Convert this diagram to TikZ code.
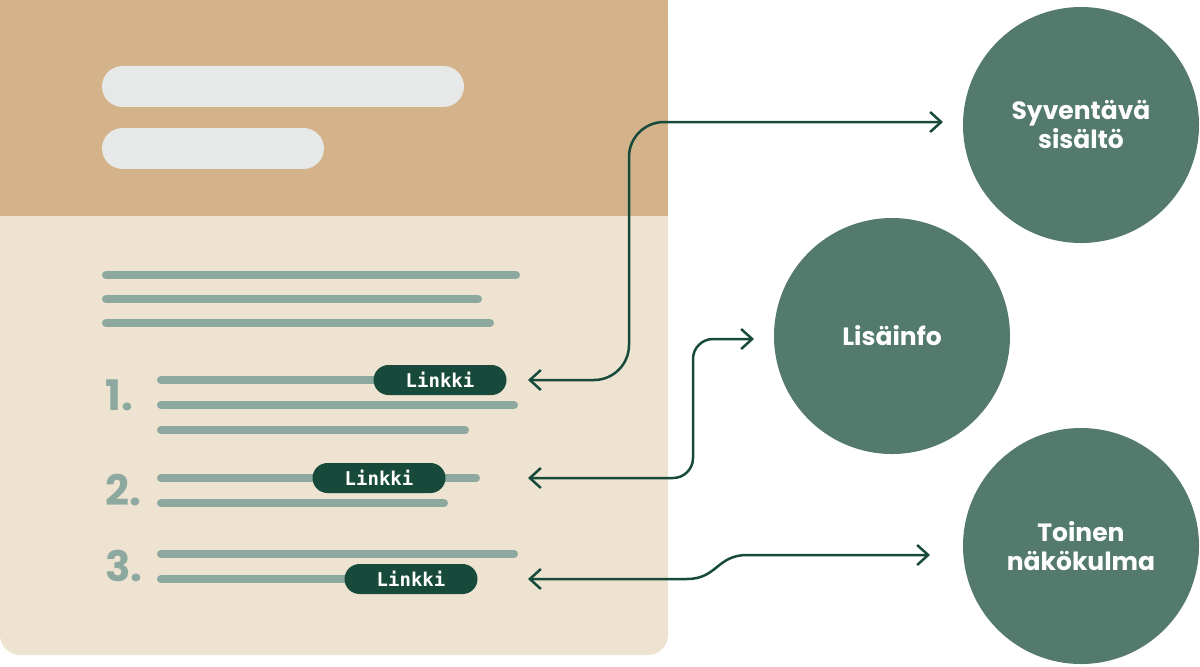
\documentclass[tikz,border=0pt]{standalone}
\usepackage{fontspec}
\setmainfont{Poppins}
\setmonofont{DejaVu Sans Mono}
\usepackage{xcolor}
\usetikzlibrary{arrows.meta,positioning}
\definecolor{headtan}{HTML}{D4B28A}
\definecolor{bodybeige}{HTML}{EDE3D0}
\definecolor{headpill}{HTML}{E6E9E7}
\definecolor{bargray}{HTML}{8CA89F}
\definecolor{linkgreen}{HTML}{174A3B}
\definecolor{topicgreen}{HTML}{537A6C}

\begin{document}
\begin{tikzpicture}[
  x=0.5pt, y=-0.5pt,
  bar/.style={draw=bargray, line width=4pt, line cap=round},
  titlebar/.style={draw=headpill, line width=20.5pt, line cap=round},
  link/.style={fill=linkgreen, rounded corners=7.5pt, minimum width=66.5pt,
               minimum height=15pt, inner sep=0pt, text=white!95!bodybeige,
               font=\ttfamily\bfseries\fontsize{9.5}{10}\selectfont},
  num/.style={anchor=west, inner sep=0pt, text=bargray,
              font=\bfseries\fontsize{21}{21}\selectfont},
  topic/.style={circle, fill=topicgreen, minimum size=118pt, inner sep=0pt,
                align=center, text=white!96!headpill,
                font=\bfseries\fontsize{12.5}{14.5}\selectfont},
  arr/.style={{Straight Barb[length=5.5pt,width=10pt]}-{Straight Barb[length=5.5pt,width=10pt]},
              draw=linkgreen, line width=1.25pt},
]
\useasboundingbox (0,0) rectangle (1200,666);

% page
\fill[bodybeige, rounded corners=10pt] (0,0) rectangle (668,655);
\fill[headtan] (0,0) rectangle (668,216);
\draw[titlebar] (122.5,86.5) -- (443.5,86.5);
\draw[titlebar] (122.5,148.5) -- (303.5,148.5);
\foreach \y/\xe in {275/516, 299/478, 323/490}
  \draw[bar] (106,\y) -- (\xe,\y);

% list
\node[num] (n1) at (105,395) {1.};
\node[num] (n2) at (105,490) {2.};
\node[num] (n3) at (105,566) {3.};
\foreach \y/\xe in {380/440, 405/514, 430/465, 478/476, 503/444, 554/514, 579/411}
  \draw[bar] (161,\y) -- (\xe,\y);
\node[link] (link1) at (440,380) {Linkki};
\node[link] (link2) at (379,478) {Linkki};
\node[link] (link3) at (411,579) {Linkki};

% topics
\node[topic] (deep) at (1081,125) {Syventävä\\sisältö};
\node[topic] (info) at (892,336) {Lisäinfo};
\node[topic] (view) at (1081,546) {Toinen\\näkökulma};

\coordinate (to1) at (528,380);
\coordinate (to2) at (528,478);
\coordinate (to3) at (528,579);
\coordinate (at1) at (943,122);
\coordinate (at2) at (754,339);
\coordinate (at3) at (930,555);

\draw[arr, rounded corners=17.5pt] (to1) -| (629,122) -- (at1);
\draw[arr, rounded corners=10pt] (to2) -| (693,339) -- (at2);
\draw[arr] (to3) -- (687,579) .. controls (717,579) and (717,555) .. (747,555) -- (at3);
\end{tikzpicture}
\end{document}
